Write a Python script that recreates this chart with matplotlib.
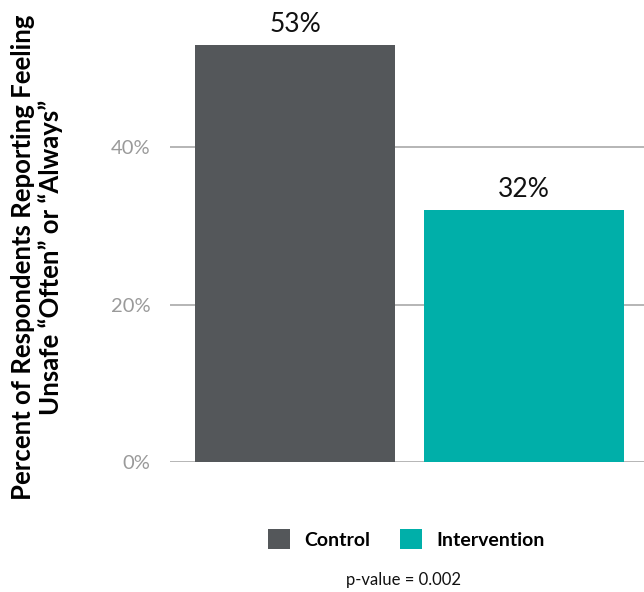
import matplotlib
matplotlib.use("Agg")
import matplotlib.pyplot as plt
from matplotlib.patches import Patch

groups = ["Control", "Intervention"]
values = [53, 32]
colors = ["#54575a", "#00afa9"]
ytick_vals = [0, 20, 40]
ytick_labels = ["0%", "20%", "40%"]
ylabel = "Percent of Respondents Reporting Feeling\nUnsafe \u201cOften\u201d or \u201cAlways\u201d"
note = "p-value = 0.002"

plt.rcParams["font.family"] = ["Lato", "DejaVu Sans"]

fig = plt.figure(figsize=(6.44, 5.92), dpi=100)
ax = fig.add_axes([0.264, 0.2196, 0.736, 0.7804])

x = list(range(len(groups)))
bars = ax.bar(x, values, width=0.873, color=colors, zorder=3)
for xi, v in zip(x, values):
    ax.text(xi, v + 1.0, f"{v}%", ha="center", va="bottom", fontsize=19, color="#111111")

ax.set_xlim(-0.546, 1.524)
ax.set_ylim(0, 58.67)
ax.set_yticks(ytick_vals)
ax.set_yticklabels(ytick_labels, fontsize=14.5, color="#9a9a9a")
ax.set_xticks([])
ax.tick_params(axis="y", length=0, pad=14)
for s in ax.spines.values():
    s.set_visible(False)
for t in ytick_vals:
    ax.axhline(t, color="#b5b5b5", linewidth=1.4, zorder=1)

fig.text(0.058, 0.566, ylabel, rotation=90, ha="center", va="center",
         fontsize=18.5, fontweight="bold", multialignment="center", linespacing=1.15)

handles = [Patch(facecolor=c) for c in colors]
fig.legend(handles, groups, loc="center", bbox_to_anchor=(0.631, 0.0895),
           ncol=2, frameon=False, handlelength=1.15, handleheight=1.15,
           columnspacing=1.5, handletextpad=0.75,
           prop={"size": 14, "weight": "bold"})

fig.text(0.627, 0.02, note, ha="center", va="center", fontsize=12, color="#111111")

fig.savefig("out.png", dpi=100)
